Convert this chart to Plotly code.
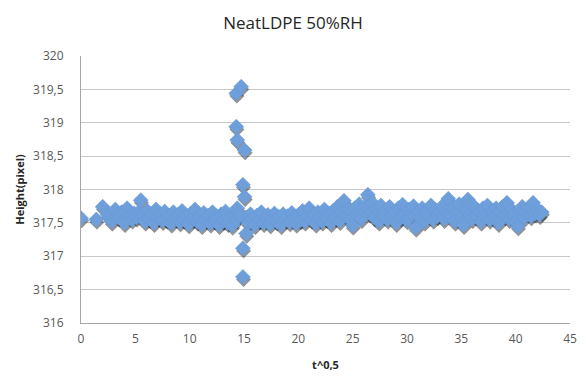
import plotly.graph_objects as go

# Square root of elapsed time (t^0,5) and measured drop height in pixels
x_start = [0.0, 1.41, 2.0, 2.45, 2.83, 3.16, 3.46, 3.74, 4.0, 4.24, 4.47, 4.69, 4.9]
y_start = [317.57, 317.55, 317.74, 317.62, 317.52, 317.70, 317.58, 317.66, 317.50,
           317.72, 317.60, 317.55, 317.64]

x_early = [5.1, 5.3, 5.5, 5.7, 5.9, 6.1, 6.3, 6.5, 6.7, 6.9,
           7.1, 7.3, 7.5, 7.7, 7.9, 8.1, 8.3, 8.5, 8.7, 8.9,
           9.1, 9.3, 9.5, 9.7, 9.9, 10.1, 10.3, 10.5, 10.7, 10.9,
           11.1, 11.3, 11.5, 11.7, 11.9, 12.1, 12.3, 12.5, 12.7, 12.9,
           13.1, 13.3, 13.5, 13.7, 13.9, 14.1, 14.3]
y_early = [317.58, 317.66, 317.84, 317.62, 317.52, 317.68, 317.56, 317.63, 317.50, 317.70,
           317.58, 317.64, 317.53, 317.67, 317.55, 317.61, 317.49, 317.66, 317.57, 317.62,
           317.51, 317.68, 317.55, 317.60, 317.48, 317.64, 317.56, 317.70, 317.52, 317.59,
           317.47, 317.65, 317.55, 317.61, 317.49, 317.66, 317.54, 317.60, 317.47, 317.63,
           317.53, 317.67, 317.50, 317.58, 317.46, 317.62, 317.55]

# Scattered readings around t^0,5 = 15
x_jump = [14.29, 14.74, 14.29, 14.38, 15.05, 14.9, 15.05, 14.38, 15.2, 14.9, 14.9, 14.6]
y_jump = [319.44, 319.54, 318.94, 318.74, 318.59, 318.07, 317.89, 317.72, 317.34,
          317.12, 316.69, 317.62]

x_late = [15.2, 15.4, 15.6, 15.8, 16.0, 16.2, 16.4, 16.6, 16.8, 17.0,
          17.2, 17.4, 17.6, 17.8, 18.0, 18.2, 18.4, 18.6, 18.8, 19.0,
          19.2, 19.4, 19.6, 19.8, 20.0, 20.2, 20.4, 20.6, 20.8, 21.0,
          21.2, 21.4, 21.6, 21.8, 22.0, 22.2, 22.4, 22.6, 22.8, 23.0,
          23.2, 23.4, 23.6, 23.8, 24.0, 24.2, 24.4, 24.6, 24.8, 25.0,
          25.2, 25.4, 25.6, 25.8, 26.0, 26.2, 26.4, 26.6, 26.8, 27.0,
          27.2, 27.4, 27.6, 27.8, 28.0, 28.2, 28.4, 28.6, 28.8, 29.0,
          29.2, 29.4, 29.6, 29.8, 30.0, 30.2, 30.4, 30.6, 30.8, 31.0,
          31.2, 31.4, 31.6, 31.8, 32.0, 32.2, 32.4, 32.6, 32.8, 33.0,
          33.2, 33.4, 33.6, 33.8, 34.0, 34.2, 34.4, 34.6, 34.8, 35.0,
          35.2, 35.4, 35.6, 35.8, 36.0, 36.2, 36.4, 36.6, 36.8, 37.0,
          37.2, 37.4, 37.6, 37.8, 38.0, 38.2, 38.4, 38.6, 38.8, 39.0,
          39.2, 39.4, 39.6, 39.8, 40.0, 40.2, 40.4, 40.6, 40.8, 41.0,
          41.2, 41.4, 41.6, 41.8, 42.0, 42.2, 42.4]
y_late = [317.58, 317.50, 317.63, 317.55, 317.47, 317.61, 317.54, 317.66, 317.50, 317.58,
          317.62, 317.48, 317.56, 317.64, 317.52, 317.59, 317.47, 317.63, 317.55, 317.60,
          317.51, 317.65, 317.57, 317.49, 317.62, 317.54, 317.68, 317.52, 317.60, 317.72,
          317.55, 317.63, 317.49, 317.66, 317.58, 317.52, 317.70, 317.56, 317.64, 317.50,
          317.68, 317.58, 317.74, 317.53, 317.66, 317.83, 317.60, 317.70, 317.55, 317.46,
          317.72, 317.62, 317.78, 317.56, 317.68, 317.75, 317.92, 317.64, 317.80, 317.58,
          317.70, 317.52, 317.76, 317.63, 317.68, 317.55, 317.74, 317.60, 317.66, 317.50,
          317.72, 317.58, 317.77, 317.62, 317.54, 317.70, 317.64, 317.75, 317.43, 317.66,
          317.58, 317.72, 317.52, 317.68, 317.62, 317.76, 317.55, 317.70, 317.60, 317.66,
          317.74, 317.56, 317.68, 317.86, 317.62, 317.72, 317.52, 317.66, 317.78, 317.58,
          317.47, 317.70, 317.85, 317.64, 317.56, 317.74, 317.60, 317.68, 317.52, 317.72,
          317.62, 317.76, 317.55, 317.68, 317.58, 317.72, 317.50, 317.66, 317.74, 317.60,
          317.80, 317.56, 317.70, 317.62, 317.52, 317.45, 317.68, 317.74, 317.58, 317.66,
          317.72, 317.60, 317.80, 317.64, 317.70, 317.62, 317.66]

x_all = x_start + x_early + x_late + x_jump
y_all = y_start + y_early + y_late + y_jump

x_ticks = [0, 5, 10, 15, 20, 25, 30, 35, 40, 45]
y_ticks = [316, 316.5, 317, 317.5, 318, 318.5, 319, 319.5, 320]

fig = go.Figure()

# soft drop shadow under the markers
fig.add_trace(go.Scatter(
    x=[v + 0.06 for v in x_all], y=[v - 0.04 for v in y_all],
    mode="markers", hoverinfo="skip",
    marker=dict(symbol="diamond", size=11, color="rgba(20,20,20,0.45)",
                line=dict(width=1, color="rgba(20,20,20,0.2)")),
))
fig.add_trace(go.Scatter(
    x=x_all, y=y_all, mode="markers", name="Height",
    marker=dict(symbol="diamond", size=11.5, color="#6f9fdb",
                line=dict(width=0.6, color="#6598d8")),
))

axis_font = dict(family="Open Sans, sans-serif", size=12, color="#595959")
title_font = dict(family="Open Sans, sans-serif", size=11, color="#262626")
fig.update_layout(
    width=586, height=379,
    margin=dict(l=81, r=9, t=56, b=56),
    paper_bgcolor="white", plot_bgcolor="white",
    separators=", ",
    showlegend=False,
    title=dict(text="NeatLDPE 50%RH", x=0.5, xanchor="center", y=0.94, yanchor="middle",
               font=dict(family="Open Sans, sans-serif", size=17, color="#262626")),
    xaxis=dict(range=[0, 45], tickvals=x_ticks, showgrid=False, zeroline=False,
               showline=True, linecolor="#a6a6a6", linewidth=1,
               ticks="", tickfont=axis_font, ticklabelstandoff=5,
               title=dict(text="<b>t^0,5</b>", standoff=14, font=title_font)),
    yaxis=dict(range=[316, 320], tickvals=y_ticks, showgrid=True, gridcolor="#c8c8c8",
               gridwidth=1, zeroline=False, showline=True, linecolor="#a6a6a6",
               linewidth=1, ticks="", tickfont=axis_font, ticklabelstandoff=14,
               title=dict(text="<b>Height(pixel)</b>", standoff=6, font=title_font)),
)

fig.write_html("out.html")
